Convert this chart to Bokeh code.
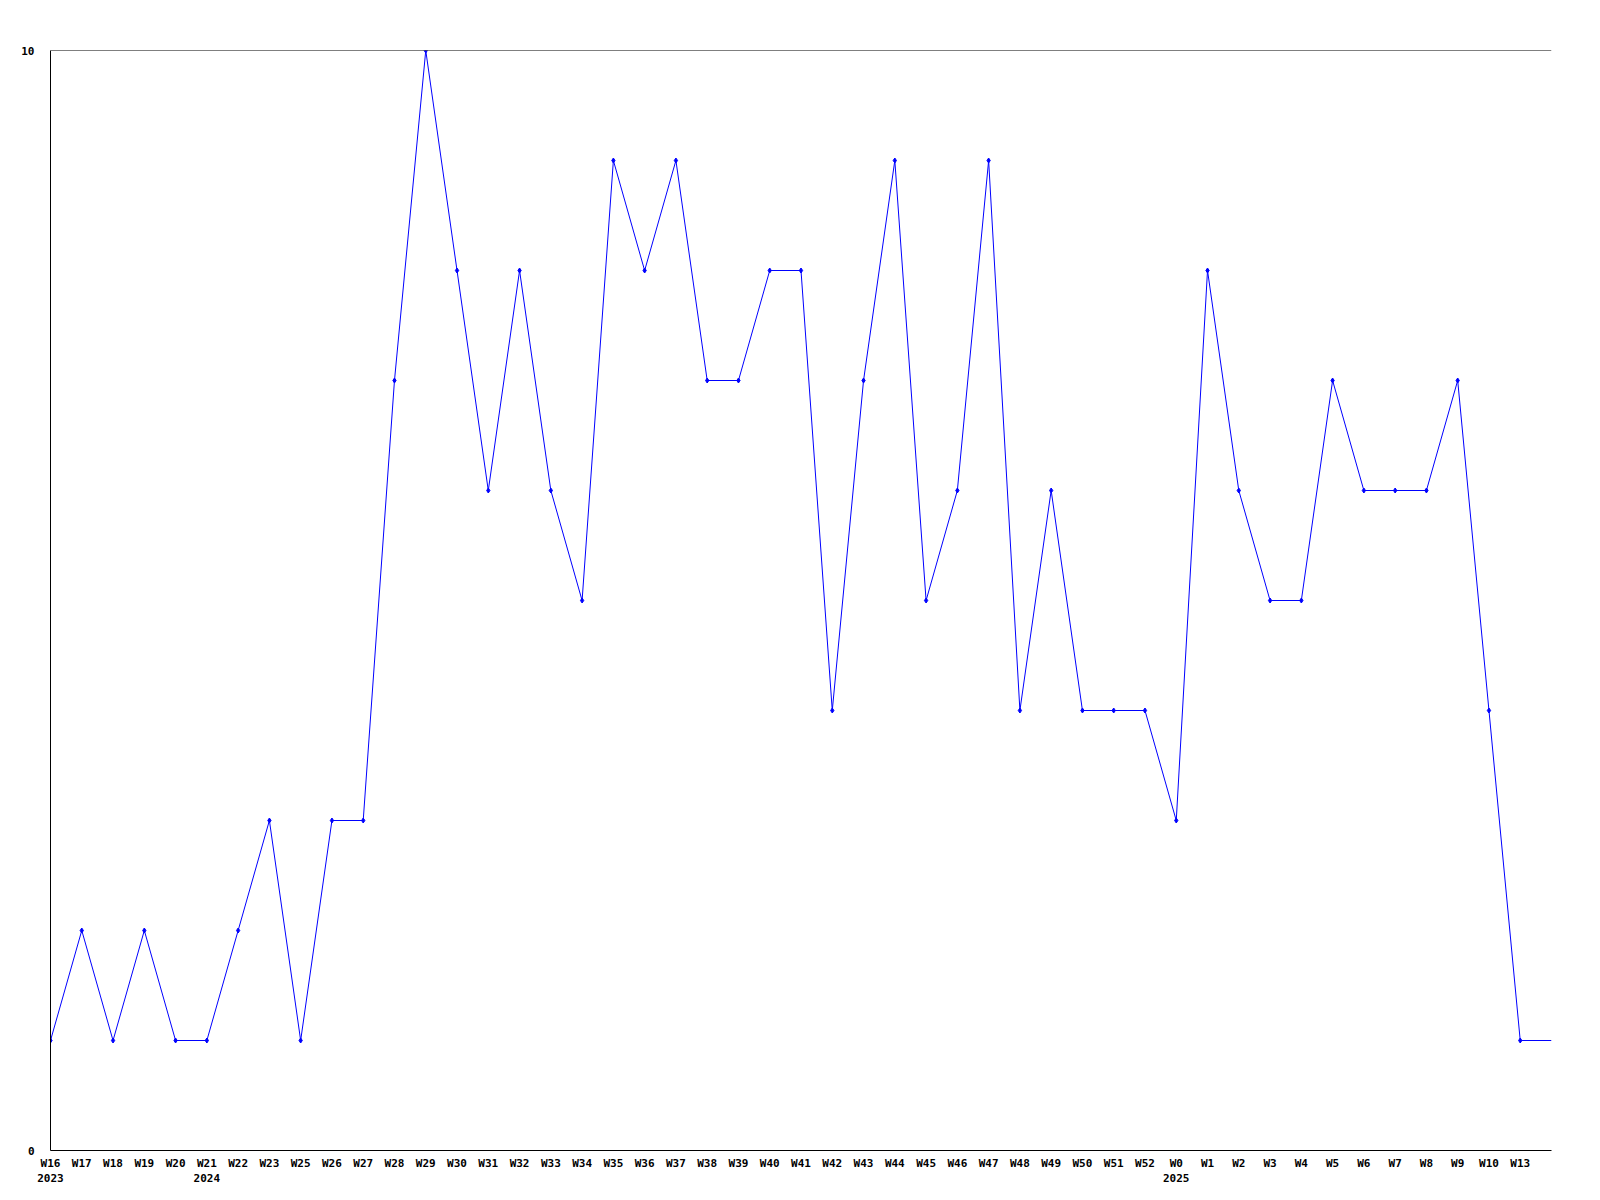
from bokeh.plotting import figure
from bokeh.models import Range1d, Span, FixedTicker
from bokeh.embed import file_html
from bokeh.resources import INLINE

weeks = ["W16", "W17", "W18", "W19", "W20", "W21", "W22", "W23", "W25", "W26", "W27",
         "W28", "W29", "W30", "W31", "W32", "W33", "W34", "W35", "W36", "W37", "W38",
         "W39", "W40", "W41", "W42", "W43", "W44", "W45", "W46", "W47", "W48", "W49",
         "W50", "W51", "W52", "W0", "W1", "W2", "W3", "W4", "W5", "W6", "W7", "W8",
         "W9", "W10", "W13"]
values = [1, 2, 1, 2, 1, 1, 2, 3, 1, 3, 3,
          7, 10, 8, 6, 8, 6, 5, 9, 8, 9, 7,
          7, 8, 8, 4, 7, 9, 5, 6, 9, 4, 6,
          4, 4, 4, 3, 8, 6, 5, 5, 7, 6, 6, 6,
          7, 4, 1]
# the series continues flat to the right edge of the chart
tail_value = 1
years = {"W16": "2023", "W21": "2024", "W0": "2025"}
y_ticks = [0, 10]

n = len(weeks)
xs = list(range(n))
line_x = xs + [n]
line_y = values + [tail_value]

FONT = "DejaVu Sans Mono"

p = figure(frame_width=1501, frame_height=1100, output_backend="svg", toolbar_location=None,
           x_range=Range1d(0, n), y_range=Range1d(0, 10),
           min_border_left=50, min_border_right=33, min_border_top=50, min_border_bottom=34)
p.xgrid.visible = False
p.ygrid.visible = False
p.outline_line_color = None
p.background_fill_color = "white"
p.border_fill_color = "white"

for ax in (p.xaxis[0], p.yaxis[0]):
    ax.axis_line_color = "black"
    ax.axis_line_width = 1
    ax.major_tick_line_color = None
    ax.minor_tick_line_color = None
    ax.major_label_text_font = FONT
    ax.major_label_text_font_style = "bold"
    ax.major_label_text_font_size = "11px"
    ax.major_label_text_color = "black"

p.xaxis[0].ticker = FixedTicker(ticks=xs, minor_ticks=[])
p.xaxis[0].major_label_overrides = {
    i: (w + "\n" + years[w]) if w in years else w for i, w in enumerate(weeks)
}
p.xaxis[0].major_label_standoff = 0
p.yaxis[0].ticker = FixedTicker(ticks=y_ticks, minor_ticks=[])
p.yaxis[0].major_label_standoff = 10

p.add_layout(Span(location=10, dimension="width", line_color="black", line_width=1))

p.line(line_x, line_y, line_color="#0000ff", line_width=1)
p.scatter(xs, values, marker="diamond", size=5, color="#0000ff")

open("out.html", "w").write(file_html(p, INLINE))
